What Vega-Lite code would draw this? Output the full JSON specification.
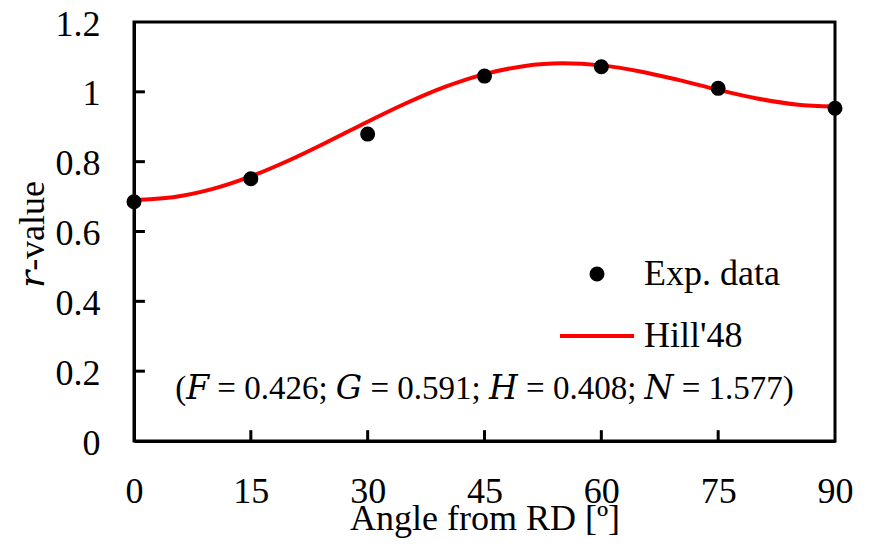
{
  "$schema": "https://vega.github.io/schema/vega-lite/v6.json",
  "width": 701,
  "height": 419,
  "autosize": {"type": "none"},
  "padding": {"left": 134, "top": 22, "right": 36, "bottom": 106},
  "background": "white",
  "config": {
    "font": "Liberation Serif",
    "view": {"stroke": "black", "strokeWidth": 3},
    "axis": {
      "grid": false,
      "ticks": false,
      "domainColor": "black",
      "domainWidth": 3,
      "labelColor": "black",
      "labelFont": "Liberation Serif",
      "labelFontSize": 36,
      "titleColor": "black",
      "titleFont": "Liberation Serif",
      "titleFontSize": 36,
      "titleFontWeight": "normal",
      "labelOverlap": false,
      "labelFlush": false
    }
  },
  "datasets": {
    "hill": [
      {"angle": 0, "r": 0.6904, "series": "Hill'48"},
      {"angle": 5, "r": 0.6983, "series": "Hill'48"},
      {"angle": 10, "r": 0.7214, "series": "Hill'48"},
      {"angle": 15, "r": 0.7579, "series": "Hill'48"},
      {"angle": 20, "r": 0.8049, "series": "Hill'48"},
      {"angle": 25, "r": 0.8585, "series": "Hill'48"},
      {"angle": 30, "r": 0.9144, "series": "Hill'48"},
      {"angle": 35, "r": 0.9679, "series": "Hill'48"},
      {"angle": 40, "r": 1.0146, "series": "Hill'48"},
      {"angle": 45, "r": 1.0506, "series": "Hill'48"},
      {"angle": 50, "r": 1.0734, "series": "Hill'48"},
      {"angle": 55, "r": 1.0816, "series": "Hill'48"},
      {"angle": 60, "r": 1.0758, "series": "Hill'48"},
      {"angle": 65, "r": 1.0584, "series": "Hill'48"},
      {"angle": 70, "r": 1.0334, "series": "Hill'48"},
      {"angle": 75, "r": 1.0057, "series": "Hill'48"},
      {"angle": 80, "r": 0.9810, "series": "Hill'48"},
      {"angle": 85, "r": 0.9638, "series": "Hill'48"},
      {"angle": 90, "r": 0.9577, "series": "Hill'48"}
    ],
    "exp": [
      {"angle": 0, "r": 0.685, "series": "Exp. data"},
      {"angle": 15, "r": 0.751, "series": "Exp. data"},
      {"angle": 30, "r": 0.879, "series": "Exp. data"},
      {"angle": 45, "r": 1.045, "series": "Exp. data"},
      {"angle": 60, "r": 1.072, "series": "Exp. data"},
      {"angle": 75, "r": 1.010, "series": "Exp. data"},
      {"angle": 90, "r": 0.953, "series": "Exp. data"}
    ],
    "xticks": [{"v": 15}, {"v": 30}, {"v": 45}, {"v": 60}, {"v": 75}],
    "yticks": [{"v": 0.2}, {"v": 0.4}, {"v": 0.6}, {"v": 0.8}, {"v": 1.0}],
    "note": [
      {"label": "(𝐹 = 0.426; 𝐺 = 0.591; 𝐻 = 0.408; 𝑁 = 1.577)"}
    ]
  },
  "layer": [
    {
      "data": {"name": "xticks"},
      "mark": {"type": "rule", "color": "#000000", "strokeWidth": 3, "opacity": 1},
      "encoding": {
        "x": {"field": "v", "type": "quantitative", "scale": {"domain": [0, 90], "nice": false}},
        "y": {"datum": 0, "type": "quantitative", "scale": {"domain": [0, 1.2], "nice": false, "zero": false}},
        "y2": {"datum": 0.031}
      }
    },
    {
      "data": {"name": "yticks"},
      "mark": {"type": "rule", "color": "#000000", "strokeWidth": 3, "opacity": 1},
      "encoding": {
        "y": {"field": "v", "type": "quantitative"},
        "x": {"datum": 0, "type": "quantitative"},
        "x2": {"datum": 1.4}
      }
    },
    {
      "data": {"name": "hill"},
      "mark": {"type": "line", "interpolate": "monotone", "strokeWidth": 4, "clip": false},
      "encoding": {
        "x": {
          "field": "angle", "type": "quantitative",
          "axis": {
            "orient": "top",
            "offset": -419,
            "values": [0, 15, 30, 45, 60, 75, 90],
            "labelPadding": -61,
            "labelBaseline": "alphabetic",
            "title": "Angle from RD [º]",
            "titleBaseline": "alphabetic",
            "titleX": 350.5,
            "titleY": 88
          }
        },
        "y": {
          "field": "r", "type": "quantitative",
          "axis": {
            "orient": "right",
            "offset": -701,
            "values": [0, 0.2, 0.4, 0.6, 0.8, 1, 1.2],
            "format": "~g",
            "labelPadding": -34,
            "labelAlign": "right",
            "labelBaseline": "middle",
            "labelOffset": 2,
            "title": "𝑟-value",
            "titleFont": "Liberation Serif, DejaVu Serif",
            "titleAngle": -90,
            "titleAlign": "center",
            "titleBaseline": "alphabetic",
            "titleX": -91,
            "titleY": 212
          }
        },
        "color": {
          "field": "series", "type": "nominal",
          "scale": {"domain": ["Exp. data", "Hill'48"], "range": ["black", "#ff0000"]},
          "legend": {
            "orient": "none",
            "legendX": 424,
            "legendY": 234,
            "title": null,
            "padding": 0,
            "labelFont": "Liberation Serif",
            "labelFontSize": 36,
            "labelColor": "black",
            "labelBaseline": "middle",
            "symbolStrokeWidth": 4,
            "labelOffset": 8,
            "rowPadding": 5
          }
        }
      }
    },
    {
      "data": {"name": "exp"},
      "mark": {"type": "point", "filled": true, "opacity": 1, "stroke": "black", "strokeWidth": 4, "clip": false},
      "encoding": {
        "x": {"field": "angle", "type": "quantitative"},
        "y": {"field": "r", "type": "quantitative"},
        "color": {"field": "series", "type": "nominal"},
        "shape": {
          "field": "series", "type": "nominal",
          "scale": {"domain": ["Exp. data", "Hill'48"], "range": ["circle", "stroke"]},
          "legend": {"orient": "none", "legendX": 424, "legendY": 234, "title": null, "padding": 0, "labelFontSize": 36, "labelBaseline": "middle", "symbolStrokeWidth": 4, "labelOffset": 8, "rowPadding": 5}
        },
        "size": {
          "field": "series", "type": "nominal",
          "scale": {"type": "ordinal", "domain": ["Exp. data", "Hill'48"], "range": [121, 5476]},
          "legend": {"orient": "none", "legendX": 424, "legendY": 234, "title": null, "padding": 0, "labelFontSize": 36, "labelBaseline": "middle", "symbolStrokeWidth": 4, "labelOffset": 8, "rowPadding": 5}
        }
      }
    },
    {
      "data": {"name": "note"},
      "mark": {"type": "text", "fontSize": 33, "font": "Liberation Serif, DejaVu Serif", "baseline": "alphabetic", "align": "center", "color": "black"},
      "encoding": {
        "x": {"datum": 45, "type": "quantitative"},
        "y": {"datum": 0.12, "type": "quantitative"},
        "text": {"field": "label"}
      }
    }
  ]
}
